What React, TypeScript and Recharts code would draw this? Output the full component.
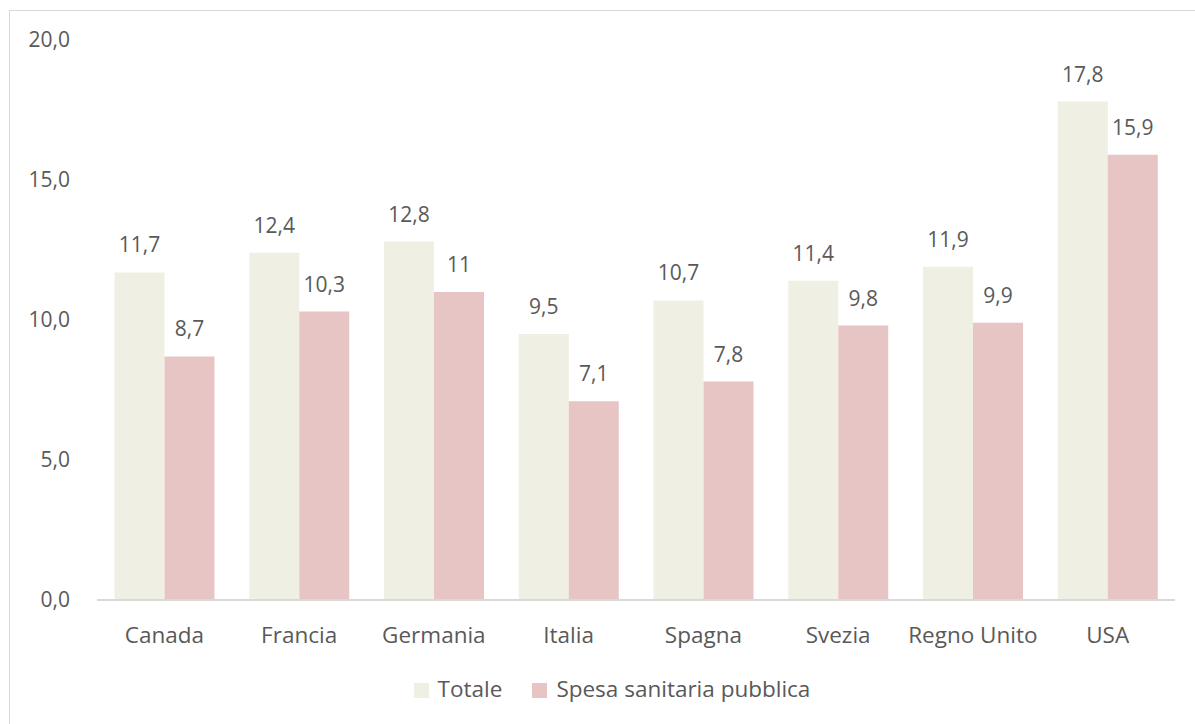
import { BarChart, Bar, XAxis, YAxis, Legend, LabelList } from 'recharts';

const countries = ['Canada', 'Francia', 'Germania', 'Italia', 'Spagna', 'Svezia', 'Regno Unito', 'USA'];
const totale = [11.7, 12.4, 12.8, 9.5, 10.7, 11.4, 11.9, 17.8];
const pubblica = [8.7, 10.3, 11, 7.1, 7.8, 9.8, 9.9, 15.9];
const yTicks = [0, 5, 10, 15, 20];

const data = countries.map((c, i) => ({ name: c, totale: totale[i], pubblica: pubblica[i] }));

const FONT = '"Open Sans", "Noto Sans", sans-serif';
const TEXT = '#595959';
const FS = 21;
const FS_TEXT = 22.5;

const fmtLabel = (v: any) => String(v).replace('.', ',');
const fmtTick = (v: number) => v.toFixed(1).replace('.', ',');

export default function App() {
    return (
        <div style={{ position: 'fixed', left: 0, top: 0, width: 1195, height: 724, background: '#fff', fontFamily: FONT }}>
            <div style={{ position: 'absolute', left: 9, top: 10, width: 1300, height: 800, border: '1px solid #d9d9d9' }} />
            <div style={{ position: 'absolute', left: 0, top: 0 }}>
                <BarChart
                    width={1195}
                    height={724}
                    data={data}
                    margin={{ top: 40, right: 20, left: 37, bottom: 20 }}
                    barCategoryGap="13%"
                    barGap={0}
                >
                    <YAxis
                        domain={[0, 20]}
                        ticks={yTicks}
                        tickFormatter={fmtTick}
                        axisLine={false}
                        tickLine={false}
                        width={60}
                        tickMargin={21}
                        tick={{ fill: TEXT, fontSize: FS, fontFamily: FONT }}
                    />
                    <XAxis
                        dataKey="name"
                        axisLine={{ stroke: '#d9d9d9', strokeWidth: 2 }}
                        tickLine={false}
                        height={73}
                        tickMargin={21}
                        tick={{ fill: TEXT, fontSize: FS_TEXT, fontFamily: FONT }}
                    />
                    <Legend
                        verticalAlign="bottom"
                        iconType="square"
                        iconSize={15}
                        itemSorter={(item: any) => (item.dataKey === 'totale' ? 0 : 1)}
                        wrapperStyle={{ fontSize: FS_TEXT, fontFamily: FONT, paddingLeft: 21 }}
                        formatter={(value: string) => <span style={{ color: TEXT, marginLeft: 5, marginRight: 20 }}>{value}</span>}
                    />
                    <Bar dataKey="totale" name="Totale" fill="#EFEFE3" isAnimationActive={false}>
                        <LabelList dataKey="totale" position="top" offset={20} formatter={fmtLabel} fill={TEXT} fontSize={FS} fontFamily={FONT} />
                    </Bar>
                    <Bar dataKey="pubblica" name="Spesa sanitaria pubblica" fill="#E8C5C5" isAnimationActive={false}>
                        <LabelList dataKey="pubblica" position="top" offset={20} formatter={fmtLabel} fill={TEXT} fontSize={FS} fontFamily={FONT} />
                    </Bar>
                </BarChart>
            </div>
        </div>
    );
}
